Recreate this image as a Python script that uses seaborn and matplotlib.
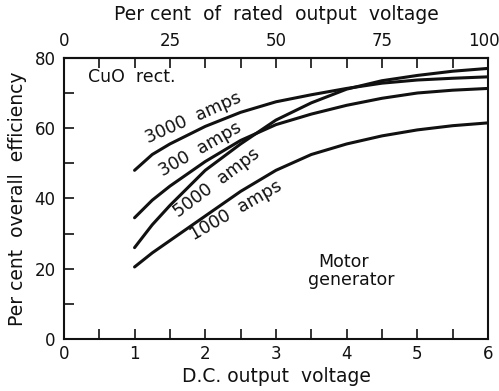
import numpy as np
import pandas as pd
import matplotlib
matplotlib.use("Agg")
import matplotlib.pyplot as plt
import matplotlib.transforms as mtransforms
import seaborn as sns
from matplotlib.ticker import MultipleLocator

# D.C. output voltage (V) and overall efficiency (%) for each load current
voltage = [1.0, 1.25, 1.5, 2.0, 2.5, 3.0, 3.5, 4.0, 4.5, 5.0, 5.5, 6.0]
eff_3000 = [48, 52.5, 55.5, 60.5, 64.5, 67.5, 69.5, 71.3, 72.8, 73.7, 74.2, 74.6]
eff_300 = [34.5, 39.5, 43.5, 50.5, 56.5, 61, 64, 66.5, 68.5, 70, 70.8, 71.3]
eff_5000 = [26, 32.5, 38, 48, 55.5, 62.3, 67.2, 71.1, 73.5, 75, 76.2, 77]
eff_1000 = [20.5, 24.5, 28, 35, 42, 48, 52.5, 55.5, 57.8, 59.5, 60.7, 61.5]

series_names = ["3000 amps", "300 amps", "5000 amps", "1000 amps"]
series_values = [eff_3000, eff_300, eff_5000, eff_1000]

# curve labels: text, x (V), y (%), rotation
label_text = ["3000  amps", "300  amps", "5000  amps", "1000  amps"]
label_x = [1.83, 1.93, 2.16, 2.44]
label_y = [62.8, 54.0, 44.5, 36.6]
label_rot = [24, 30, 37, 30]

x_ticks = [0, 1, 2, 3, 4, 5, 6]
y_ticks = [0, 20, 40, 60, 80]
pct_ticks = [0, 25, 50, 75, 100]

df = pd.DataFrame({
    "voltage": np.tile(voltage, len(series_names)),
    "efficiency": np.concatenate(series_values),
    "current": np.repeat(series_names, len(voltage)),
})

sns.set_theme(style="ticks")
plt.rcParams["font.family"] = ["DejaVu Sans"]
ink = "#111111"

fig = plt.figure(figsize=(4.99, 3.91), dpi=100)
ax = fig.add_axes([0.128, 0.133, 0.850, 0.719])

sns.lineplot(data=df, x="voltage", y="efficiency", hue="current",
             palette={n: ink for n in series_names}, linewidth=2.2,
             legend=False, ax=ax, sort=False)

ax.set_xlim(0, 6)
ax.set_ylim(0, 80)
ax.set_xticks(x_ticks)
ax.set_xticklabels([str(t) for t in x_ticks])
ax.xaxis.set_minor_locator(MultipleLocator(0.5))
ax.set_yticks(y_ticks)
ax.set_yticklabels([str(t) for t in y_ticks])
ax.yaxis.set_minor_locator(MultipleLocator(10))

ax.tick_params(axis="both", which="both", direction="in", length=7,
               width=1.2, color=ink, labelsize=12, labelcolor=ink)
ax.tick_params(axis="x", which="major", pad=4)
ax.tick_params(axis="y", which="major", pad=6)
ax.set_xlabel("D.C. output  voltage", fontsize=13.5, color=ink, labelpad=3)
ax.set_ylabel("Per cent  overall  efficiency", fontsize=13.5, color=ink, labelpad=5)

for side in ["left", "bottom", "top", "right"]:
    ax.spines[side].set_visible(True)
    ax.spines[side].set_linewidth(1.5)
    ax.spines[side].set_color(ink)

top = ax.secondary_xaxis("top", functions=(lambda v: v / 6 * 100, lambda p: p / 100 * 6))
top.set_xticks(pct_ticks)
top.set_xticklabels([str(t) for t in pct_ticks])
top.xaxis.set_minor_locator(MultipleLocator(100 / 12))
top.tick_params(axis="x", which="both", direction="in", length=7, width=1.2,
                color=ink, labelsize=12, labelcolor=ink, pad=6)
top.set_xlabel("Per cent  of  rated  output  voltage", fontsize=13.5, color=ink, labelpad=8)
top.spines["top"].set_linewidth(1.5)

# keep the "100" label inside the figure edge
fig.canvas.draw()
last = top.xaxis.get_majorticklabels()[-1]
last.set_transform(last.get_transform() +
                   mtransforms.ScaledTranslation(-3 / 72, 0, fig.dpi_scale_trans))

for t, x, y, r in zip(label_text, label_x, label_y, label_rot):
    ax.text(x, y, t, rotation=r, rotation_mode="anchor", ha="center", va="center",
            fontsize=12.5, color=ink)

ax.text(0.34, 74.6, "CuO  rect.", ha="left", va="center", fontsize=12.5, color=ink)
ax.text(3.60, 22.0, "Motor", ha="left", va="center", fontsize=12.5, color=ink)
ax.text(4.07, 16.8, "generator", ha="center", va="center", fontsize=12.5, color=ink)

fig.savefig("out.png", dpi=100, facecolor="white")
